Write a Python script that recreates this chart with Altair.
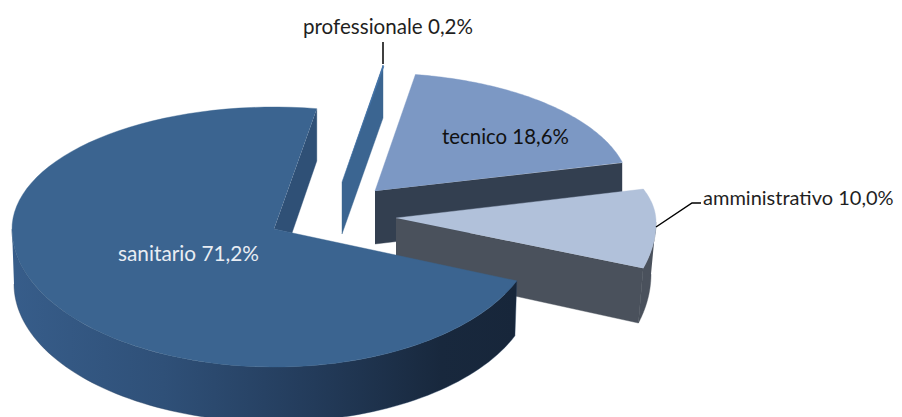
import math
import altair as alt
import pandas as pd

# chart values (percent, in clockwise drawing order from the first slice)
labels = ["professionale", "tecnico", "amministrativo", "sanitario"]
shares = [0.2, 18.6, 10.0, 71.2]
label_texts = ["professionale 0,2%", "tecnico 18,6%", "amministrativo 10,0%", "sanitario 71,2%"]

START_ANGLE = 9.4
angles = {}
a = START_ANGLE
for name, v in zip(labels, shares):
    angles[name] = (a, a + v * 3.6)
    a += v * 3.6

X_SCALE = alt.Scale(domain=[8, 894], nice=False, zero=False)
Y_SCALE = alt.Scale(domain=[417, 8], nice=False, zero=False)


def ell(cx, cy, rx, up, dn, t):
    r = math.radians(t)
    c = math.cos(r)
    return (cx + rx * math.sin(r), cy - c * (up if c > 0 else dn))


def arc(cx, cy, rx, up, dn, t0, t1, n=90):
    return [ell(cx, cy, rx, up, dn, t0 + (t1 - t0) * i / n) for i in range(n + 1)]


def shape(points, fill, stroke=None):
    df = pd.DataFrame(points, columns=["x", "y"])
    df["i"] = range(len(df))
    col = stroke if isinstance(stroke, str) else (fill if isinstance(fill, str) else "#26405f")
    return alt.Chart(df).mark_line(fill=fill, stroke=col, strokeWidth=0.4, interpolate="linear").encode(
        x=alt.X("x:Q", scale=X_SCALE, axis=None),
        y=alt.Y("y:Q", scale=Y_SCALE, axis=None),
        order=alt.Order("i:Q"),
    )


layers = []

# professionale
layers.append(shape([(383, 65), (383, 118), (342, 234), (342, 182)], "#3b6591"))
layers.append(shape([(342, 182), (383, 65), (384, 67)], "#4373a8"))

# tecnico
t0, t1 = angles["tecnico"]
TC = (375, 191)
layers.append(shape([TC, (622, 163), (622, 215), (375, 244)], "#333f50"))
layers.append(shape([TC] + arc(TC[0], TC[1], 255, 118, 118, t0 - 1, t1 - 1), "#7c98c4"))

# amministrativo (drawn 5 degrees back: the perspective skews this slice)
t0, t1 = angles["amministrativo"]
t0 -= 5
t1 -= 5
AC = (396, 218)
AB = (396, 270)
top_face = arc(AC[0], 222, 260, 107, 149, t0, t1)
low = arc(AB[0], 274, 255, 107, 158, 90, t1)
top = arc(AC[0], 222, 260, 107, 149, 90, t1)
layers.append(shape([AC, top[-1], low[-1], AB], "#4a515c"))
layers.append(shape(top + low[::-1], "#4a515c"))
layers.append(shape([AC] + top_face, "#b1c1da"))

# sanitario
t0, t1 = angles["sanitario"]
t0 -= 1
SC = (274, 229)
SB = (274, 284)
wall_grad = alt.Gradient(
    gradient="linear", x1=0, x2=1, y1=0, y2=0,
    stops=[
        alt.GradientStop(offset=0.0, color="#375d8a"),
        alt.GradientStop(offset=0.3, color="#2f5078"),
        alt.GradientStop(offset=0.6, color="#233b5a"),
        alt.GradientStop(offset=0.85, color="#18283d"),
        alt.GradientStop(offset=1.0, color="#17263a"),
    ],
)
rim_top = arc(SC[0], SC[1], 262, 122, 138, 270, t0)
rim_low = arc(SB[0], SB[1], 260, 122, 138, 270, t0)
s_arc = arc(SC[0], SC[1], 262, 122, 138, t0, t1)
layers.append(shape([s_arc[-1], (s_arc[-1][0], 161), (292, 233), SC], "#2f5076"))
layers.append(shape(rim_low + rim_top[::-1], wall_grad))
layers.append(shape([SC] + s_arc, "#3b6490"))

# leader lines
leaders = pd.DataFrame(
    {"x": [383, 383, 656, 692, 701], "y": [42, 64, 227, 203, 203], "g": [0, 0, 1, 1, 1], "i": [0, 1, 2, 3, 4]}
)
layers.append(
    alt.Chart(leaders).mark_line(color="#000000", strokeWidth=1.5).encode(
        x=alt.X("x:Q", scale=X_SCALE, axis=None),
        y=alt.Y("y:Q", scale=Y_SCALE, axis=None),
        detail="g:N",
        order="i:Q",
    )
)

# data labels
text_df = pd.DataFrame(
    {
        "t": label_texts,
        "x": [303, 442, 703, 118],
        "y": [28, 138, 199, 255],
        "c": ["#1f1f1f", "#111111", "#1f1f1f", "#e9edf3"],
        "s": [20.6, 20.4, 20, 20.8],
    }
)
layers.append(
    alt.Chart(text_df).mark_text(font="Lato", align="left", baseline="middle").encode(
        x=alt.X("x:Q", scale=X_SCALE, axis=None),
        y=alt.Y("y:Q", scale=Y_SCALE, axis=None),
        text="t:N",
        color=alt.Color("c:N", scale=None),
        size=alt.Size("s:Q", scale=None, legend=None),
    )
)

chart = alt.layer(*layers).properties(
    width=886, height=409,
    padding=0,
    background="#ffffff",
).configure_view(stroke=None)
chart.save("out.html", embed_options={"renderer": "svg", "actions": False})
